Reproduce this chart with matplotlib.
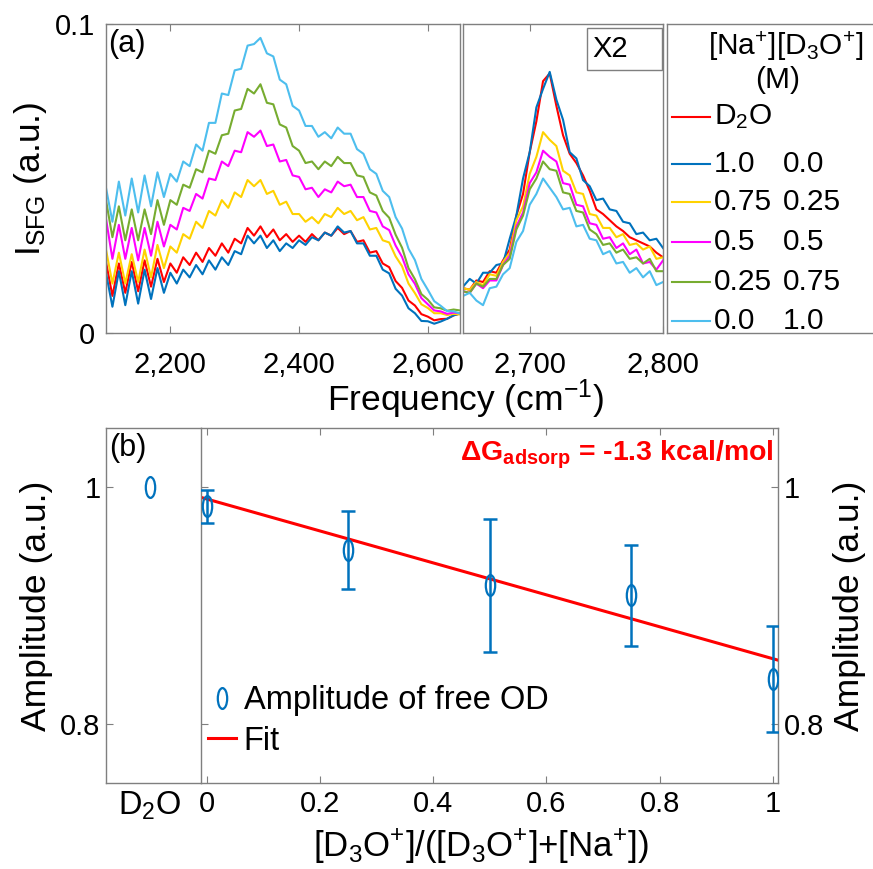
import matplotlib.pyplot as plt
import numpy as np
from matplotlib.markers import MarkerStyle
from matplotlib.transforms import Affine2D
from matplotlib.patches import Rectangle

plt.rcParams['font.family'] = ['Liberation Sans', 'DejaVu Sans']
plt.rcParams['mathtext.fontset'] = 'custom'
plt.rcParams['mathtext.rm'] = 'Liberation Sans'
plt.rcParams['mathtext.it'] = 'Liberation Sans:italic'
plt.rcParams['mathtext.bf'] = 'Liberation Sans:bold'
plt.rcParams['mathtext.default'] = 'regular'

# ---- SFG spectra (intensity in units of 1e-3 a.u.) ----
freq_lo = np.arange(2100, 2651, 10)
freq_hi = np.arange(2650, 2801, 5)

d2o_lo = [23, 12, 22.5, 13, 23, 13.5, 23.5, 15, 24, 16.5, 22.5, 19.5, 24.5, 22, 26, 23,
          27.5, 25, 29, 26, 30.5, 29, 34, 31.5, 34.5, 31, 33.5, 30, 32, 29.5, 31.5, 29.5,
          32, 30, 32.5, 31.5, 34, 32, 33, 29.5, 30, 26, 26.5, 22.5, 21.3, 16.8, 14.6, 10.5,
          8.9, 6.1, 5.3, 4.1, 4.5, 4.6, 5.7, 6.3]
na10_lo = [19.5, 8.5, 20, 9, 20, 9.5, 20.5, 11, 21, 13, 19.5, 16, 20.5, 18, 22, 19,
           23.5, 20.5, 24.5, 22, 26.5, 25.5, 31.5, 29, 31.5, 27.5, 30, 26.5, 29, 27.5, 30, 28.5,
           31, 30, 32.5, 31.5, 34.5, 32.5, 33, 29, 29, 25, 25, 20.5, 19.3, 14.3, 12.1, 8,
           6.4, 3.9, 3.8, 3, 3.7, 4.6, 5.7, 6.3]
na075_lo = [27, 16, 26, 16, 25.5, 16.5, 27, 18, 28.5, 21, 28, 26, 32, 30.5, 36, 34,
            39.5, 38, 43, 40.5, 45.5, 44, 49.5, 47.5, 49.5, 45, 46, 41.5, 42.5, 38.5, 38.5, 36,
            37.5, 35.5, 38.5, 37.5, 40.5, 38.5, 39.5, 36.5, 37.5, 33.5, 34, 30, 29.3, 24.8, 21.6, 16,
            12.9, 9.3, 8.1, 6.4, 6.4, 5.8, 6.2, 6]
na05_lo = [37, 24, 35, 24, 34, 23.5, 34, 25, 36, 28, 35, 33.5, 40.5, 39.5, 45, 43.5,
           50, 49.5, 55.5, 54, 59, 58.5, 65, 63.5, 65.5, 60.5, 61, 55.5, 56, 51, 50.5, 46.5,
           47, 44, 46.5, 45.5, 49, 47.5, 48, 44, 44, 39.5, 39, 34.5, 33.3, 28.3, 24.6, 19,
           15.9, 11.3, 9.3, 7.3, 7, 6.2, 6.6, 6.4]
na025_lo = [43, 31, 41, 30, 40, 30, 40, 32, 43, 35, 43, 41.5, 48, 47, 53, 52,
            59, 58, 64, 64.5, 72, 72.5, 79, 77.5, 80.5, 74.5, 74, 67.5, 66.5, 60.5, 59, 55,
            55.5, 53, 55.5, 54, 57, 55, 55, 51, 50.5, 45.5, 44.5, 39.5, 37.3, 31.8, 27.6, 21,
            17.4, 12.6, 10.8, 8.3, 8, 7.2, 7.6, 7.3]
na00_lo = [47, 36, 49, 38, 50, 39, 51, 41, 52, 44, 51.5, 49, 55.5, 54, 61, 59,
           68, 68, 77.5, 77, 85, 85.5, 93, 93.5, 95.5, 90.5, 89.5, 82, 80.5, 73.5, 72, 67,
           67, 63.5, 65, 63, 66.5, 64.5, 64.5, 59.5, 58, 53, 51.5, 46, 44, 37.5, 33.8, 27.3,
           23.6, 17.5, 14, 10.3, 8.8, 7.1, 7, 6.3]

d2o_hi = [14.5, 14, 17, 16.5, 20, 19.5, 23.5, 27, 38, 45, 58.5, 68.5, 81.5, 84, 73.5, 64,
          58, 55, 51, 46, 40, 38.5, 36.5, 34.5, 33, 31, 30, 29, 28, 26, 24.5]
na10_hi = [15, 17.5, 16, 19.5, 19.5, 22, 22.5, 30.5, 38, 50, 58.5, 73, 79, 84.5, 75.5, 69,
           58.5, 56.5, 49.5, 47.5, 43, 43.5, 40, 39.5, 36, 35.5, 32, 32.5, 30, 30.5, 27.5]
na075_hi = [14.5, 14, 16.5, 15.5, 19, 18.5, 23, 26, 36.5, 41, 51.5, 57, 65, 62.5, 60.5, 52.5,
            51, 45.5, 45, 38.5, 38, 34, 34, 31, 32, 28.5, 29, 27, 28, 24, 24.5]
na05_hi = [13.5, 13, 16, 14.5, 17, 17, 22, 25, 34.5, 39, 48.5, 52, 59, 57, 55.5, 48.5,
           48, 41.5, 41, 35.5, 35, 30.5, 31, 27.5, 29, 25.5, 27, 22.5, 23, 20.5, 23.5]
na025_hi = [13.5, 13, 16, 15, 17.5, 17.5, 22, 24, 33.5, 38, 46.5, 50, 55.5, 53, 52.5, 45.5,
            45, 39.5, 39, 33.5, 32, 28.5, 29, 26, 27, 24, 24.5, 22.5, 24, 20, 20]
na00_hi = [12, 13, 10.5, 9, 14.5, 15, 19, 21, 29.5, 33, 41.5, 45, 50, 47, 44, 40,
           40.5, 34.5, 35, 30.5, 30, 25.5, 26.5, 22.5, 23, 19.5, 21, 18, 20, 15.5, 16.5]

series_lo = [d2o_lo, na10_lo, na075_lo, na05_lo, na025_lo, na00_lo]
series_hi = [d2o_hi, na10_hi, na075_hi, na05_hi, na025_hi, na00_hi]
colors = ['#FF0000', '#0072BD', '#FFD200', '#FF00FF', '#77AC30', '#4DBEEE']
na_conc = ['D$_2$O', '1.0', '0.75', '0.5', '0.25', '0.0']
d3o_conc = ['', '0.0', '0.25', '0.5', '0.75', '1.0']

# ---- free OD amplitude vs. D3O+ fraction ----
frac = [0, 0.25, 0.5, 0.75, 1.0]
amp = [0.984, 0.947, 0.917, 0.9085, 0.838]
amp_err = [0.014, 0.033, 0.056, 0.043, 0.045]
d2o_amp = 1.0
fit_intercept = 0.99
fit_slope = -0.135

grey = '#7f7f7f'
blue = '#0072BD'
PLUS = '$^{{+}}$'


def style(ax, xpad=6, ypad=6):
    for s in ax.spines.values():
        s.set_color(grey)
        s.set_linewidth(1.0)
    ax.tick_params(direction='in', length=5, width=0.8, color=grey,
                   labelsize=21, top=True, right=False)
    ax.tick_params(axis='x', pad=xpad)
    ax.tick_params(axis='y', pad=ypad)


fig = plt.figure(figsize=(8.73, 8.69), dpi=100)

# (a) low-frequency window and free OD window
ax_lo = fig.add_axes([0.1214, 0.6168, 0.4055, 0.3556])
ax_hi = fig.add_axes([0.5304, 0.6168, 0.2291, 0.3556])
for ys, c in zip(series_lo, colors):
    ax_lo.plot(freq_lo, np.array(ys) * 1e-3, color=c, lw=1.5)
for ys, c in zip(series_hi, colors):
    ax_hi.plot(freq_hi, np.array(ys) * 1e-3, color=c, lw=1.5)

ax_lo.set_xlim(2100, 2650)
ax_lo.set_ylim(0, 0.1)
ax_lo.set_xticks([2200, 2400, 2600])
ax_lo.set_xticklabels(['2,200', '2,400', '2,600'])
ax_lo.set_yticks([0, 0.1])
ax_lo.set_yticklabels(['0', '0.1'])
style(ax_lo, xpad=13, ypad=8)
ax_lo.set_ylabel('I$_{SFG}$ (a.u.)', fontsize=25.5)
ax_lo.yaxis.set_label_coords(-0.161, 0.5)
ax_lo.text(0.006, 0.985, '(a)', transform=ax_lo.transAxes, ha='left', va='top', fontsize=22)

ax_hi.set_xlim(2650, 2800)
ax_hi.set_ylim(0, 0.1)
ax_hi.set_xticks([2700, 2800])
ax_hi.set_xticklabels(['2,700', '2,800'])
ax_hi.set_yticks([])
style(ax_hi, xpad=13)
ax_hi.add_patch(Rectangle((0.62, 0.851), 0.375, 0.136, transform=ax_hi.transAxes,
                          fill=False, edgecolor=grey, lw=1.0))
ax_hi.text(0.645, 0.919, 'X2', transform=ax_hi.transAxes, ha='left', va='center', fontsize=21)

fig.text(0.533, 0.540, 'Frequency (cm$^{-1}$)', ha='center', va='center', fontsize=25.5)

# legend panel
ax_leg = fig.add_axes([0.764, 0.6168, 0.25, 0.3556])
ax_leg.set_xlim(667, 885)
ax_leg.set_ylim(334, 24)
ax_leg.set_xticks([])
ax_leg.set_yticks([])
for s in ax_leg.spines.values():
    s.set_color(grey)
    s.set_linewidth(1.0)
ax_leg.text(786, 46, '[Na' + PLUS + '][D$_3$O' + PLUS + ']', ha='center', va='center', fontsize=21.5)
ax_leg.text(778, 80, '(M)', ha='center', va='center', fontsize=21.5)
row_y = [117, 164, 203, 243, 283, 322]
for yy, c, a, b in zip(row_y, colors, na_conc, d3o_conc):
    ax_leg.plot([672, 710], [yy, yy], color=c, lw=1.5)
    ax_leg.text(714, yy, a, ha='left', va='center', fontsize=21.5)
    ax_leg.text(783, yy, b, ha='left', va='center', fontsize=21.5)

# (b) amplitude panel
ax_d = fig.add_axes([0.1214, 0.099, 0.1088, 0.4085])
ax_b = fig.add_axes([0.2302, 0.099, 0.661, 0.4085])

ellipse = MarkerStyle('o', transform=Affine2D().scale(0.45, 1.0))

ax_d.plot([-0.1], [d2o_amp], linestyle='none', marker=ellipse, ms=15,
          mfc='none', mec=blue, mew=1.6)
ax_d.set_xlim(-0.178, -0.01)
ax_d.set_ylim(0.75, 1.05)
ax_d.set_xticks([-0.1])
ax_d.set_xticklabels(['D$_2$O'], fontsize=23.5)
ax_d.set_yticks([1.0, 0.8])
ax_d.set_yticklabels(['1', '0.8'])
style(ax_d, xpad=5, ypad=4)
ax_d.tick_params(axis='x', length=0, top=False, labelsize=23.5)
ax_d.spines['right'].set_visible(False)
ax_d.set_ylabel('Amplitude (a.u.)', fontsize=25.5)
ax_d.yaxis.set_label_coords(-0.56, 0.5)
ax_d.text(0.03, 0.985, '(b)', transform=ax_d.transAxes, ha='left', va='top', fontsize=22)

ax_b.errorbar(frac, amp, yerr=amp_err, fmt='none', ecolor=blue, elinewidth=1.8,
              capsize=5, capthick=1.8, zorder=3)
ax_b.plot(frac, amp, linestyle='none', marker=ellipse, ms=15, mfc='none', mec=blue,
          mew=1.6, label='Amplitude of free OD', zorder=4)
ax_b.set_xlim(-0.01, 1.009)
ax_b.set_ylim(0.75, 1.05)
xf = np.array(ax_b.get_xlim())
ax_b.plot(xf, fit_intercept + fit_slope * xf, color='#FF0000', lw=2.2, label='Fit', zorder=2)
ax_b.set_xticks([0, 0.2, 0.4, 0.6, 0.8, 1.0])
ax_b.set_xticklabels(['0', '0.2', '0.4', '0.6', '0.8', '1'])
ax_b.set_yticks([1.0, 0.8])
ax_b.set_yticklabels(['1', '0.8'])
style(ax_b, xpad=5, ypad=4)
ax_b.tick_params(axis='y', left=True, right=True, labelleft=False, labelright=True)
ax_b.set_ylabel('Amplitude (a.u.)', fontsize=25.5)
ax_b.yaxis.set_label_position('right')
ax_b.yaxis.set_label_coords(1.095, 0.5)
ax_b.yaxis.label.set_rotation(90)
ax_b.text(0.993, 0.925, r'$\mathbf{\Delta G_{adsorp}}$ = -1.3 kcal/mol', transform=ax_b.transAxes,
          ha='right', va='center', fontsize=20.5, fontweight='bold', color='#FF0000')
ax_b.legend(loc='center left', bbox_to_anchor=(0.012, 0.175), frameon=False, fontsize=23.5,
            borderpad=0, borderaxespad=0, handlelength=0.85, handletextpad=0.25, labelspacing=0.3)

fig.text(0.551, 0.026, '[D$_3$O' + PLUS + ']/([D$_3$O' + PLUS + ']+[Na' + PLUS + '])',
         ha='center', va='center', fontsize=25)

fig.savefig('out.png', dpi=100)
